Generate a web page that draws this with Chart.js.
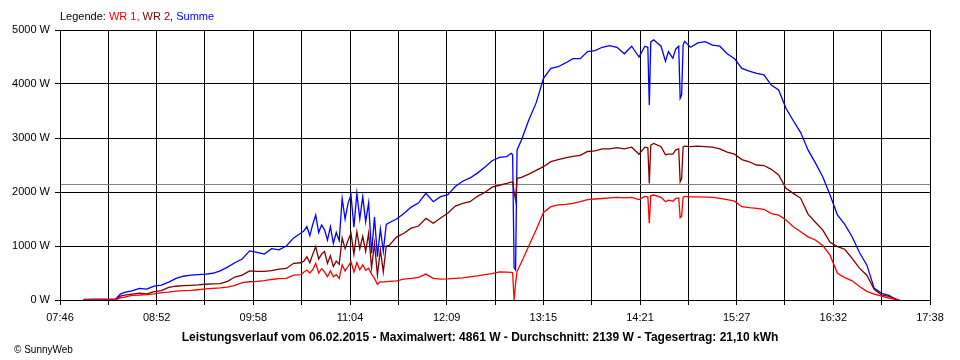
<!DOCTYPE html>
<html>
<head>
<meta charset="utf-8">
<script src="https://cdn.jsdelivr.net/npm/chart.js@4/dist/chart.umd.min.js"></script>
<style>
  body { margin: 0; background: #fff; }
  #wrap { position: relative; width: 960px; height: 360px; font-family: "Liberation Sans", Arial, sans-serif; color: #000; }
  #chart { position: absolute; left: 0; top: 0; }
  #legend { position: absolute; left: 60px; top: 10px; font-size: 11px; white-space: nowrap; }
  #title { position: absolute; left: 0; top: 330px; width: 960px; text-align: center; font-size: 12px; font-weight: bold; white-space: nowrap; }
  #credit { position: absolute; left: 14px; top: 344px; font-size: 10px; white-space: nowrap; }
</style>
</head>
<body>
<div id="wrap">
  <canvas id="chart" width="960" height="360"></canvas>
  <div id="legend">Legende: <span style="color:#ff0000">WR 1,</span> <span style="color:#800000">WR 2,</span> <span style="color:#0000ff">Summe</span></div>
  <div id="title">Leistungsverlauf vom 06.02.2015 - Maximalwert: 4861 W - Durchschnitt: 2139 W - Tagesertrag: 21,10 kWh</div>
  <div id="credit">&copy; SunnyWeb</div>
</div>
<script>
// readings, watts
const times = [
  '08:02','08:10','08:20','08:24','08:27','08:30','08:35','08:40','08:45','08:50','08:55',
  '09:00','09:05','09:10','09:15','09:20','09:25','09:30','09:35','09:40','09:45','09:50','09:55',
  '10:00','10:05','10:10','10:15','10:20','10:25','10:30','10:32','10:34','10:36','10:38','10:40',
  '10:42','10:44','10:46','10:48','10:50','10:52','10:54','10:56','10:58',
  '11:00','11:02','11:04','11:06','11:08','11:10','11:12','11:14','11:16','11:18','11:20','11:22',
  '11:24','11:26','11:28','11:30','11:35','11:40','11:45','11:50','11:55',
  '12:00','12:05','12:10','12:15','12:20','12:25','12:30','12:35','12:40','12:45','12:50','12:53',
  '12:54','12:55','12:56','12:57',
  '13:00','13:05','13:10','13:15','13:20','13:25','13:30','13:35','13:40','13:45','13:50','13:55',
  '14:00','14:05','14:10','14:15','14:20','14:24','14:26','14:27','14:28','14:30','14:35','14:38',
  '14:40','14:43','14:45','14:47','14:48','14:49','14:50','14:51','14:55',
  '15:00','15:05','15:10','15:15','15:20','15:25','15:30','15:35','15:40','15:45','15:50','15:55',
  '16:00','16:05','16:10','16:15','16:20','16:25','16:30','16:35','16:40','16:45','16:50','16:55',
  '17:00','17:05','17:10','17:15','17:17'
];

const summe = [
  10, 15, 18, 20, 110, 140, 170, 215, 200, 255, 275,
  330, 400, 440, 460, 470, 480, 495, 540, 610, 690, 760, 910,
  880, 850, 950, 930, 1000, 1150, 1240, 1280, 1360, 1190, 1400, 1575,
  1250, 1390, 1300, 1110, 1360, 1050, 1250, 1100, 1880,
  1500, 1790, 1945, 1350, 1975, 1500, 1915, 1450, 1800, 865, 1535, 800,
  1315, 900, 1400, 1430, 1500, 1600, 1720, 1800, 1975,
  1820, 1913, 1950, 2100, 2200, 2260, 2350, 2460, 2580, 2640, 2655, 2716,
  2690, 600, 555, 2778,
  2963, 3333, 3650, 4105, 4290, 4320, 4390, 4470, 4470, 4600, 4620, 4680,
  4710, 4680, 4560, 4700, 4500, 4700, 4680, 3611, 4780, 4820, 4700, 4420,
  4600, 4475, 4650, 4700, 3735, 3800, 4720, 4790, 4680,
  4760, 4784, 4720, 4700, 4560, 4470, 4290, 4240, 4198, 4170, 3980, 3889,
  3550, 3320, 3100, 2780, 2540, 2284, 1944, 1574, 1400, 1172, 880, 650,
  220, 125, 85, 10, 0
];

const wr2 = [
  3, 5, 8, 8, 70, 90, 110, 125, 115, 155, 175,
  235, 255, 265, 272, 280, 292, 300, 305, 345, 425, 460, 540,
  530, 530, 545, 570, 585, 680, 690, 720, 800, 690, 850, 987,
  760, 850, 900, 680, 820, 620, 720, 660, 1150,
  950, 1100, 1235, 850, 1265, 950, 1180, 900, 1235, 600, 1050, 463,
  930, 520, 1000, 1010, 1165, 1235, 1330, 1370, 1512,
  1420, 1520, 1610, 1740, 1790, 1820, 1920, 1990, 2090, 2125, 2160, 2185,
  2190, 2000, 1850, 2253,
  2270, 2330, 2400, 2469, 2561, 2600, 2630, 2660, 2680, 2750, 2760, 2800,
  2800, 2820, 2800, 2830, 2700, 2830, 2820, 2160, 2870, 2900, 2840, 2690,
  2700, 2700, 2780, 2800, 2191, 2250, 2830, 2850, 2840,
  2850, 2840, 2830, 2800, 2740, 2700, 2600, 2560, 2500, 2490, 2420, 2315,
  2068, 1975, 1883, 1590, 1440, 1300, 1070, 988, 940, 772, 590, 460,
  200, 95, 65, 15, 0
];

const wr1 = [
  3, 5, 8, 8, 40, 55, 85, 90, 100, 115, 135,
  145, 165, 172, 178, 190, 205, 215, 225, 240, 270, 320, 338,
  345, 360, 380, 395, 400, 460, 470, 520, 555, 500, 560, 680,
  500, 580, 520, 432, 540, 430, 470, 400, 650,
  540, 620, 710, 520, 690, 560, 650, 550, 590, 480, 400, 290,
  340, 330, 340, 345, 355, 385, 400, 420, 480,
  400, 385, 390, 400, 410, 430, 445, 470, 490, 520, 515, 510,
  505, 0, 300, 530,
  700, 1000, 1300, 1620, 1728, 1760, 1770, 1790, 1821, 1860, 1870, 1880,
  1890, 1900, 1890, 1900, 1860, 1920, 1910, 1420, 1930, 1944, 1900, 1820,
  1850, 1830, 1880, 1890, 1525, 1550, 1900, 1920, 1910,
  1910, 1905, 1900, 1880, 1860, 1830, 1728, 1710, 1697, 1680, 1600, 1570,
  1481, 1358, 1265, 1170, 1111, 1010, 830, 494, 415, 355, 250, 160,
  110, 70, 35, 5, 0
];

const average = 2139;
const xTickLabels = ['07:46','08:52','09:58','11:04','12:09','13:15','14:21','15:27','16:32','17:38'];
const yMax = 5000;
const yStep = 1000;

const FONT = '"Liberation Sans", Arial, sans-serif';

const toMin = s => { const p = s.split(':'); return +p[0] * 60 + +p[1]; };
const xMin = toMin(xTickLabels[0]);
const xMax = toMin(xTickLabels[xTickLabels.length - 1]);
const pts = vals => times.map((t, i) => ({ x: toMin(t), y: vals[i] }));

new Chart(document.getElementById('chart'), {
  type: 'line',
  data: {
    datasets: [
      { label: 'WR 1', data: pts(wr1), borderColor: '#ff0000', order: 1 },
      { label: 'WR 2', data: pts(wr2), borderColor: '#800000', order: 2 },
      { label: 'Summe', data: pts(summe), borderColor: '#0000ff', order: 3 },
      { label: 'Durchschnitt', data: [{ x: xMin, y: average }, { x: xMax, y: average }], borderColor: '#808080', borderWidth: 1, order: 4 }
    ]
  },
  options: {
    responsive: false,
    animation: false,
    layout: { padding: { top: 30, right: 30, left: 0, bottom: 0 } },
    elements: {
      point: { radius: 0 },
      line: { borderWidth: 1.3, tension: 0 }
    },
    plugins: {
      legend: { display: false },
      tooltip: { enabled: false }
    },
    scales: {
      x: {
        type: 'linear',
        min: xMin,
        max: xMax,
        afterBuildTicks: scale => {
          // gridline every half label step
          const n = (xTickLabels.length - 1) * 2;
          scale.ticks = [];
          for (let k = 0; k <= n; k++) scale.ticks.push({ value: xMin + k * (xMax - xMin) / n });
        },
        afterFit: scale => { scale.height = 60; },
        ticks: {
          autoSkip: false,
          maxRotation: 0,
          padding: 6,
          color: '#000',
          font: { family: FONT, size: 11 },
          callback: (v, i) => (i % 2 === 0 ? xTickLabels[i / 2] : '')
        },
        grid: { color: '#000', lineWidth: 1, tickLength: 5 },
        border: { color: '#000', width: 1 }
      },
      y: {
        min: 0,
        max: yMax,
        afterFit: scale => { scale.width = 60; },
        ticks: {
          stepSize: yStep,
          padding: 5,
          color: '#000',
          font: { family: FONT, size: 11 },
          callback: v => v + ' W'
        },
        grid: { color: '#000', lineWidth: 1, tickLength: 5 },
        border: { color: '#000', width: 1 }
      }
    }
  },
  plugins: [{
    // right and top frame lines
    id: 'frame',
    afterDraw: chart => {
      const a = chart.chartArea, ctx = chart.ctx;
      ctx.save();
      ctx.strokeStyle = '#000';
      ctx.lineWidth = 1;
      ctx.strokeRect(a.left + 0.5, a.top + 0.5, a.right - a.left, a.bottom - a.top);
      ctx.restore();
    }
  }]
});
</script>
</body>
</html>
